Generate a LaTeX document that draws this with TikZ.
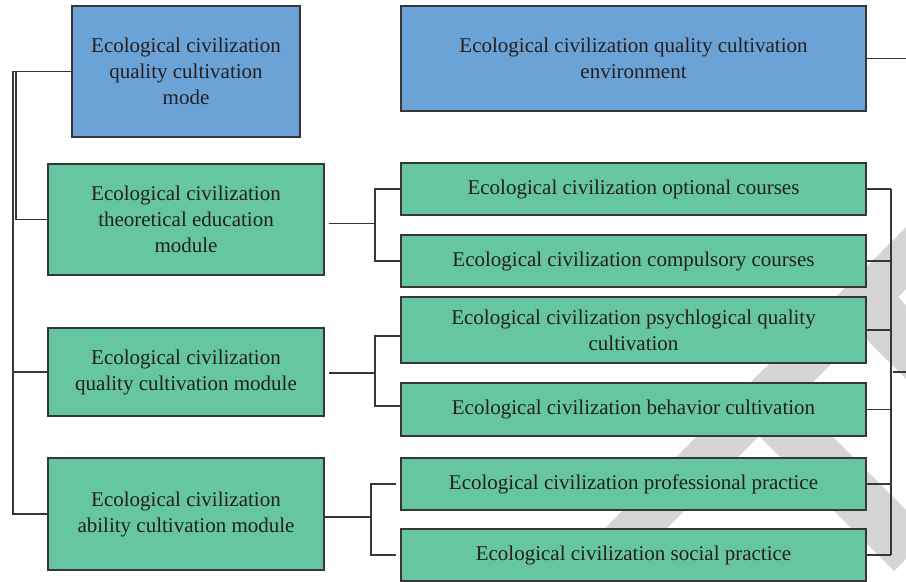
\documentclass[tikz,border=0pt]{standalone}
\usepackage{fontspec}
\setmainfont{Liberation Serif}
\definecolor{gfill}{RGB}{102,198,161}
\definecolor{bfill}{RGB}{108,163,215}
\definecolor{edgec}{RGB}{55,55,55}
\definecolor{wm}{RGB}{213,213,213}
\definecolor{txt}{RGB}{35,31,32}
\tikzset{
  box/.style={draw=edgec, line width=0.8pt, text=txt, align=center,
    font=\fontsize{10.5}{13}\selectfont, inner sep=0pt},
  gbox/.style={box, fill=gfill},
  bbox/.style={box, fill=bfill},
  rbox/.style={gbox, minimum width=232.5pt},
  lbox/.style={gbox, minimum width=138pt},
  conn/.style={draw=edgec, line width=0.7pt},
}
\begin{document}
\begin{tikzpicture}[x=0.5pt,y=-0.5pt]
\fill[white] (0,0) rectangle (906,582);
\useasboundingbox (0,0) rectangle (906,582);
% watermark bands
\begin{scope}
\clip (0,0) rectangle (906,582);
\fill[wm] (1000,133) -- (500,633) -- (562,633) -- (1062,133) -- cycle;
\fill[wm] (830,303) -- (1030,503) -- (1104,503) -- (867,266) -- cycle;
\fill[wm] (728,405) -- (894,571) -- (930.5,534.5) -- (764.5,368.5) -- cycle;
\end{scope}
% nodes
\node[bbox, minimum width=114pt, minimum height=65.5pt] (mode) at (186,71.5)
  {Ecological civilization\\quality cultivation\\mode};
\node[bbox, minimum width=232.5pt, minimum height=52.5pt] (env) at (633.5,58.5)
  {Ecological civilization quality cultivation\\environment};
\node[lbox, minimum height=55.5pt] (theo) at (186,219.5)
  {Ecological civilization\\theoretical education\\module};
\node[lbox, minimum height=44pt] (qual) at (186,372)
  {Ecological civilization\\quality cultivation module};
\node[lbox, minimum height=56pt] (abil) at (186,514)
  {Ecological civilization\\ability cultivation module};
\node[rbox, minimum height=26pt] (opt) at (633.5,189)
  {Ecological civilization optional courses};
\node[rbox, minimum height=26pt] (comp) at (633.5,261)
  {Ecological civilization compulsory courses};
\node[rbox, minimum height=33pt] (psych) at (633.5,330)
  {Ecological civilization psychlogical quality\\cultivation};
\node[rbox, minimum height=26.5pt] (beh) at (633.5,409.5)
  {Ecological civilization behavior cultivation};
\node[rbox, minimum height=26pt] (prof) at (633.5,484)
  {Ecological civilization professional practice};
\node[rbox, minimum height=26pt] (social) at (633.5,555)
  {Ecological civilization social practice};
% left tree
\coordinate (lx) at (13,0);
\coordinate (lx2) at (16,0);
\draw[conn] (mode.west) -- (mode.west -| lx) -- (abil.west -| lx) -- (abil.west);
\draw[conn] (qual.west -| lx) -- (qual.west);
\draw[conn] (mode.west -| lx2) -- (theo.west -| lx2) -- (theo.west);
% middle connectors
\coordinate (mx) at (375,0);
\coordinate (mx3) at (371,0);
\draw[conn] ([xshift=2pt,yshift=-2pt]theo.east) -- ([yshift=-2pt]theo.east -| mx);
\draw[conn] (opt.west) -- (opt.west -| mx) -- (comp.west -| mx) -- (comp.west);
\draw[conn] ([xshift=2pt,yshift=-0.5pt]qual.east) -- ([yshift=-0.5pt]qual.east -| mx);
\draw[conn] ([yshift=-3pt]psych.west) -- ([yshift=-3pt]psych.west -| mx)
  -- ([yshift=1.75pt]beh.west -| mx) -- ([yshift=1.75pt]beh.west);
\draw[conn] ([yshift=-1.5pt]abil.east) -- ([yshift=-1.5pt]abil.east -| mx3);
\draw[conn] ([xshift=-2pt]prof.west) -- (prof.west -| mx3) -- (social.west -| mx3)
  -- ([xshift=-2pt]social.west);
% right tree
\coordinate (rx) at (891,0);
\foreach \n in {opt,comp,psych,beh,prof,social}
  \draw[conn] (\n.east) -- (\n.east -| rx);
\draw[conn] (opt.east -| rx) -- (social.east -| rx);
\coordinate (stubA) at (893,372);
\coordinate (stubB) at (906,372);
\draw[conn] (stubA) -- (stubB);
\coordinate (envout) at (906,58.5);
\draw[conn] (env.east) -- (envout);
\end{tikzpicture}
\end{document}
